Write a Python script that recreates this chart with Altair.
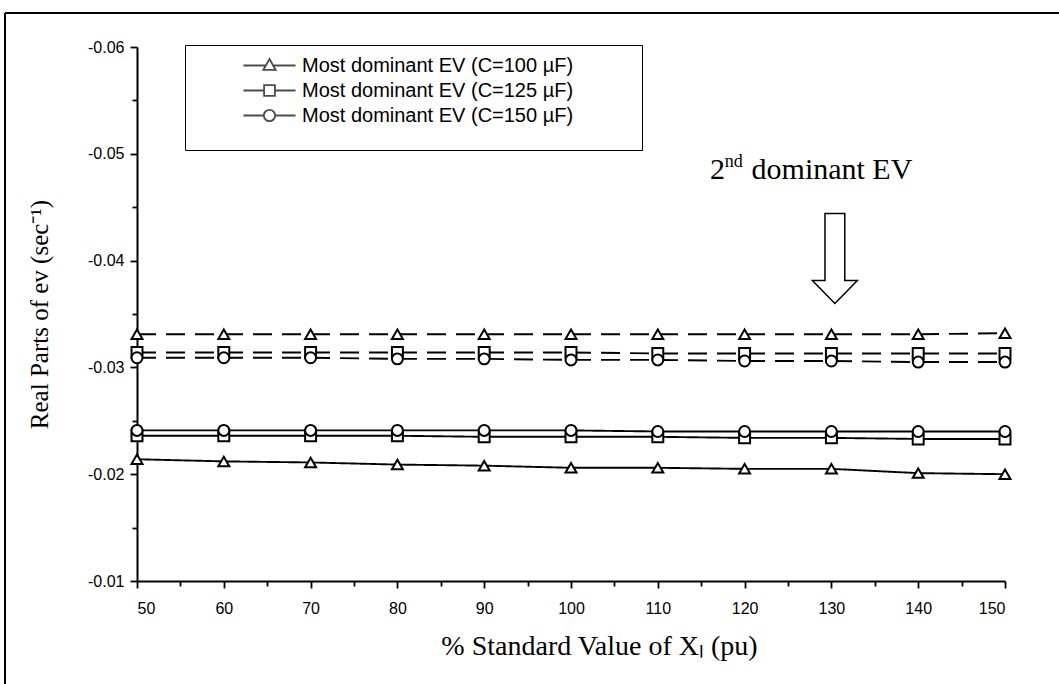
import altair as alt
import pandas as pd

# ---- data ----
x_vals = [50, 60, 70, 80, 90, 100, 110, 120, 130, 140, 150]

# Most dominant EV (solid lines)
tri_solid = [-0.0214, -0.0212, -0.0211, -0.0209, -0.0208, -0.0206, -0.0206, -0.0205, -0.0205, -0.0201, -0.0200]
sq_solid = [-0.0236, -0.0236, -0.0236, -0.0236, -0.0235, -0.0235, -0.0235, -0.0234, -0.0234, -0.0233, -0.0233]
circ_solid = [-0.0241, -0.0241, -0.0241, -0.0241, -0.0241, -0.0241, -0.0240, -0.0240, -0.0240, -0.0240, -0.0240]

# 2nd dominant EV (dashed lines)
tri_dash = [-0.0331, -0.0331, -0.0331, -0.0331, -0.0331, -0.0331, -0.0331, -0.0331, -0.0331, -0.0331, -0.0332]
sq_dash = [-0.0314, -0.0314, -0.0314, -0.0314, -0.0314, -0.0314, -0.0313, -0.0313, -0.0313, -0.0313, -0.0313]
circ_dash = [-0.0309, -0.0309, -0.0309, -0.0308, -0.0308, -0.0307, -0.0307, -0.0306, -0.0306, -0.0305, -0.0305]

legend_labels = [
    "Most dominant EV (C=100 \u00b5F)",
    "Most dominant EV (C=125 \u00b5F)",
    "Most dominant EV (C=150 \u00b5F)",
]
markers = ["tri", "sq", "circ"]

y_ticks = [-0.06, -0.055, -0.05, -0.045, -0.04, -0.035, -0.03, -0.025, -0.02, -0.015, -0.01]
x_ticks = list(range(50, 151, 5))

# annotation pieces (data coordinates)
ann_text = ["2", "nd", "dominant EV"]
ann_x = [116.0, 117.7, 120.8]
ann_y = [-0.04760, -0.04875, -0.04760]
ann_size = [30, 18, 30]
arrow_x = [130.4]
arrow_y = [-0.0402]

# ---- build tables ----
rows = []
for kind, series in [("solid", [tri_solid, sq_solid, circ_solid]), ("dashed", [tri_dash, sq_dash, circ_dash])]:
    for m, vals in zip(markers, series):
        for xv, yv in zip(x_vals, vals):
            rows.append({"x": xv, "value": yv, "marker": m, "kind": kind, "key": m + "_" + kind})
df = pd.DataFrame(rows)

xscale = alt.Scale(domain=[50, 150], nice=False, zero=False)
yscale = alt.Scale(domain=[-0.06, -0.01], nice=False, zero=False, reverse=True)

xaxis = alt.Axis(
    values=x_ticks,
    labelExpr="datum.value % 10 == 0 ? datum.label : ''",
    tickSize={"condition": {"test": "datum.value % 10 == 0", "value": 7}, "value": 5},
    title="% Standard Value of X\u2097 (pu)",
    titleFont="Liberation Serif",
    titleFontSize=28,
    titlePadding=16,
    titleX=462,
    labelPadding=12,
)
yaxis = alt.Axis(
    values=y_ticks,
    labelExpr="abs(round(datum.value*200)) % 2 == 0 ? replace(format(datum.value, '.2f'), '\u2212', '-') : ''",
    tickSize={"condition": {"test": "abs(round(datum.value*200)) % 2 == 0", "value": 7}, "value": 5},
    title="Real Parts of ev (sec\u207b\u00b9)",
    titleFont="Liberation Serif",
    titleFontSize=25,
    titlePadding=35,
    labelPadding=6,
)

base = alt.Chart(df)

lines = base.mark_line(color="black", strokeWidth=1.9).encode(
    x=alt.X("x:Q", scale=xscale, axis=xaxis),
    y=alt.Y("value:Q", scale=yscale, axis=yaxis),
    detail="key:N",
    strokeDash=alt.StrokeDash(
        "kind:N",
        scale=alt.Scale(domain=["solid", "dashed"], range=[[1, 0], [19, 10]]),
        legend=None,
    ),
)

points = base.mark_point(filled=True, fill="white", stroke="black", strokeWidth=2, size=120, opacity=1).encode(
    x=alt.X("x:Q", scale=xscale),
    y=alt.Y("value:Q", scale=yscale),
    shape=alt.Shape(
        "marker:N",
        scale=alt.Scale(domain=markers, range=["triangle-up", "square", "circle"]),
        legend=None,
    ),
)

# legend symbols: connecting line + open marker
leg_paths = [
    "M 2.81 0 L 4.49 0 M 4.99 0 L 6.67 0 M 4.74 -0.48 L 5.20 0.33 L 4.28 0.33 Z",
    "M 2.81 0 L 4.34 0 M 5.14 0 L 6.67 0 M 4.34 -0.4 L 5.14 -0.4 L 5.14 0.4 L 4.34 0.4 Z",
    "M 2.81 0 L 4.32 0 M 5.16 0 L 6.67 0 M 4.32 0 A 0.42 0.42 0 1 0 5.16 0 A 0.42 0.42 0 1 0 4.32 0 Z",
]
leg_df = pd.DataFrame({"label": legend_labels, "x": x_vals[:3], "value": tri_solid[:3]})
legend_layer = alt.Chart(leg_df).transform_filter("false").mark_point(
    filled=False, color="black", strokeWidth=1.8
).encode(
    x=alt.X("x:Q", scale=xscale),
    y=alt.Y("value:Q", scale=yscale),
    shape=alt.Shape(
        "label:N",
        scale=alt.Scale(domain=legend_labels, range=leg_paths),
        legend=alt.Legend(
            orient="none",
            legendX=48,
            legendY=-2,
            title="_" * 50,
            titleColor="white",
            titleOrient="bottom",
            titleFontSize=16,
            titlePadding=2,
            titleLimit=2000,
            padding=6,
            strokeColor="black",
            fillColor="white",
            symbolSize=729,
            symbolStrokeColor="black",
            symbolStrokeWidth=1.8,
            labelFont="Liberation Sans",
            labelFontSize=20,
            labelColor="black",
            labelOffset=82,
            labelLimit=600,
            rowPadding=0,
        ),
    ),
)

ann_df = pd.DataFrame({"t": ann_text, "x": ann_x, "value": ann_y, "s": ann_size})
annot = alt.Chart(ann_df).mark_text(
    font="Liberation Serif", align="left", baseline="alphabetic", color="black"
).encode(
    x=alt.X("x:Q", scale=xscale),
    y=alt.Y("value:Q", scale=yscale),
    text="t:N",
    size=alt.Size("s:Q", scale=None, legend=None),
)

arrow_df = pd.DataFrame({"x": arrow_x, "value": arrow_y})
arrow = alt.Chart(arrow_df).mark_point(
    shape="M -0.22 -1 L 0.22 -1 L 0.22 0.49 L 0.5 0.49 L 0 1 L -0.5 0.49 L -0.22 0.49 Z",
    size=8100, filled=True, fill="white", stroke="black", strokeWidth=1.5, opacity=1,
).encode(
    x=alt.X("x:Q", scale=xscale),
    y=alt.Y("value:Q", scale=yscale),
)

frame_df = pd.DataFrame({"a": [0]})
frame_left = alt.Chart(frame_df).mark_rule(color="black", strokeWidth=2).encode(
    x=alt.value(-132), y=alt.value(-34), y2=alt.value(640)
)
frame_top = alt.Chart(frame_df).mark_rule(color="black", strokeWidth=2).encode(
    x=alt.value(-132), x2=alt.value(925), y=alt.value(-34)
)

chart = alt.layer(
    frame_left, frame_top, lines, points, arrow, annot, legend_layer
).resolve_scale(shape="independent").properties(
    width=868,
    height=534,
    autosize=alt.AutoSizeParams(type="none"),
    padding={"left": 137, "top": 47, "right": 54, "bottom": 103},
).configure_view(stroke=None).configure_axis(
    grid=False,
    domainColor="black",
    domainWidth=2,
    tickColor="black",
    tickWidth=1.8,
    labelColor="black",
    labelFont="Liberation Sans",
    labelFontSize=16,
    titleColor="black",
    titleFontWeight="normal",
)

chart.save("out.html", embed_options={"renderer": "svg", "actions": False})
